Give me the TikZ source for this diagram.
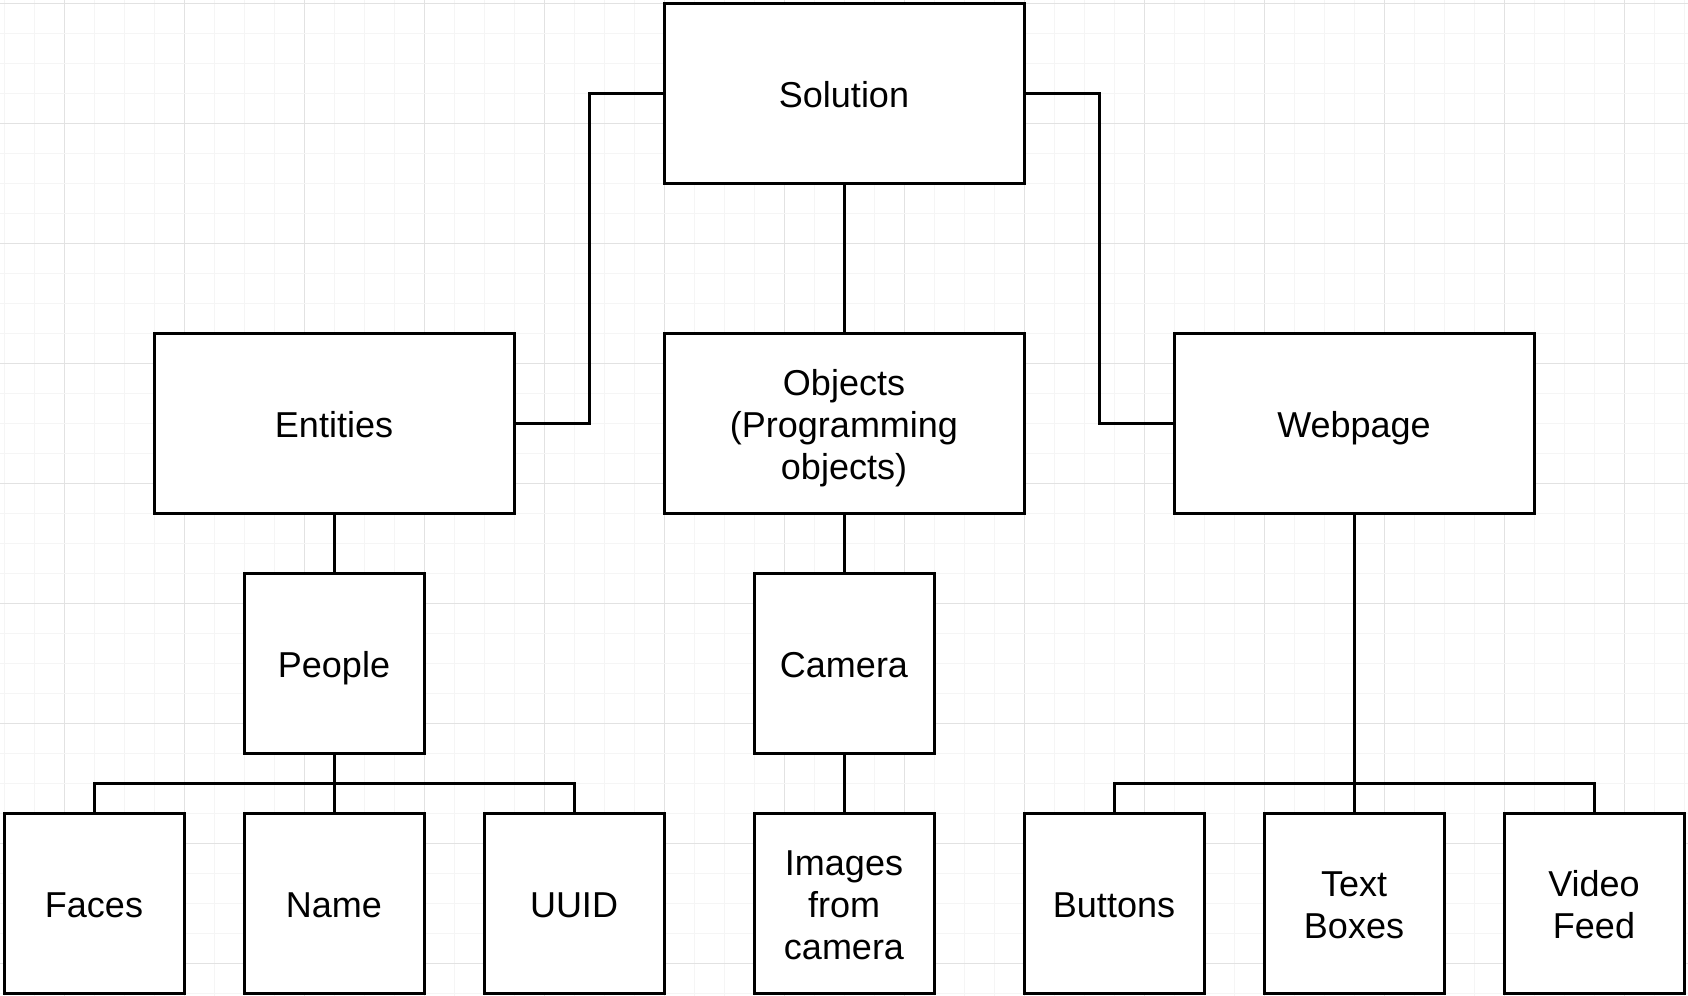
\documentclass[tikz,border=0pt]{standalone}
\usepackage{fontspec}
\setmainfont{Liberation Sans}
\definecolor{gridminor}{HTML}{F5F5F5}
\definecolor{gridmajor}{HTML}{E2E2E2}
\newcommand{\lnst}{\rule[-3.5pt]{0pt}{21pt}}
\lineskiplimit=-30pt\relax
\begin{document}
\begin{tikzpicture}[x=0.5pt,y=-0.5pt,
  nodebase/.style={draw=black, line width=1.5pt, fill=white, inner sep=0pt, outer sep=0pt,
    align=center, font=\fontsize{18pt}{21pt}\selectfont},
  widebox/.style={nodebase, minimum width=180pt, minimum height=90pt},
  sqbox/.style={nodebase, minimum width=90pt, minimum height=90pt},
  conn/.style={draw=black, line width=1.5pt},
  gminor/.style={draw=gridminor, line width=0.5pt},
  gmajor/.style={draw=gridmajor, line width=0.5pt}]
\useasboundingbox[fill=white] (-4,-3.3) rectangle (1684,992.7);
% grid
\foreach \k in {0,...,56}{
  \pgfmathtruncatemacro{\m}{mod(\k,4)}
  \ifnum\m=2 \draw[gmajor] (\k*30,-3.3) -- (\k*30,992.7);
  \else \draw[gminor] (\k*30,-3.3) -- (\k*30,992.7); \fi
}
\foreach \k in {0,...,33}{
  \pgfmathtruncatemacro{\m}{mod(\k,4)}
  \ifnum\m=0 \draw[gmajor] (-4,\k*30) -- (1684,\k*30);
  \else \draw[gminor] (-4,\k*30) -- (1684,\k*30); \fi
}
% nodes
\node[widebox] (sol) at (840,90) {\lnst Solution};
\node[widebox] (ent) at (330,420) {\lnst Entities};
\node[widebox] (obj) at (840,420) {\lnst Objects\\\lnst (Programming\\\lnst objects)};
\node[widebox] (web) at (1350,420) {\lnst Webpage};
\node[sqbox] (peo) at (330,660) {\lnst People};
\node[sqbox] (cam) at (840,660) {\lnst Camera};
\node[sqbox] (fac) at (90,900) {\lnst Faces};
\node[sqbox] (nam) at (330,900) {\lnst Name};
\node[sqbox] (uui) at (570,900) {\lnst UUID};
\node[sqbox] (img) at (840,900) {\lnst Images\\\lnst from\\\lnst camera};
\node[sqbox] (but) at (1110,900) {\lnst Buttons};
\node[sqbox] (txt) at (1350,900) {\lnst Text\\\lnst Boxes};
\node[sqbox] (vid) at (1590,900) {\lnst Video\\\lnst Feed};
% connectors
\draw[conn] (sol.west) -- ++(-75,0) |- (ent.east);
\draw[conn] (sol.east) -- ++(75,0) |- (web.west);
\draw[conn] (sol.south) -- (obj.north);
\draw[conn] (ent.south) -- (peo.north);
\draw[conn] (obj.south) -- (cam.north);
\draw[conn] (cam.south) -- (img.north);
\draw[conn] (peo.south) -- (nam.north);
\draw[conn] (fac.north) -- ++(0,-30) -| (uui.north);
\draw[conn] (web.south) -- (txt.north);
\draw[conn] (but.north) -- ++(0,-30) -| (vid.north);
\end{tikzpicture}
\end{document}
